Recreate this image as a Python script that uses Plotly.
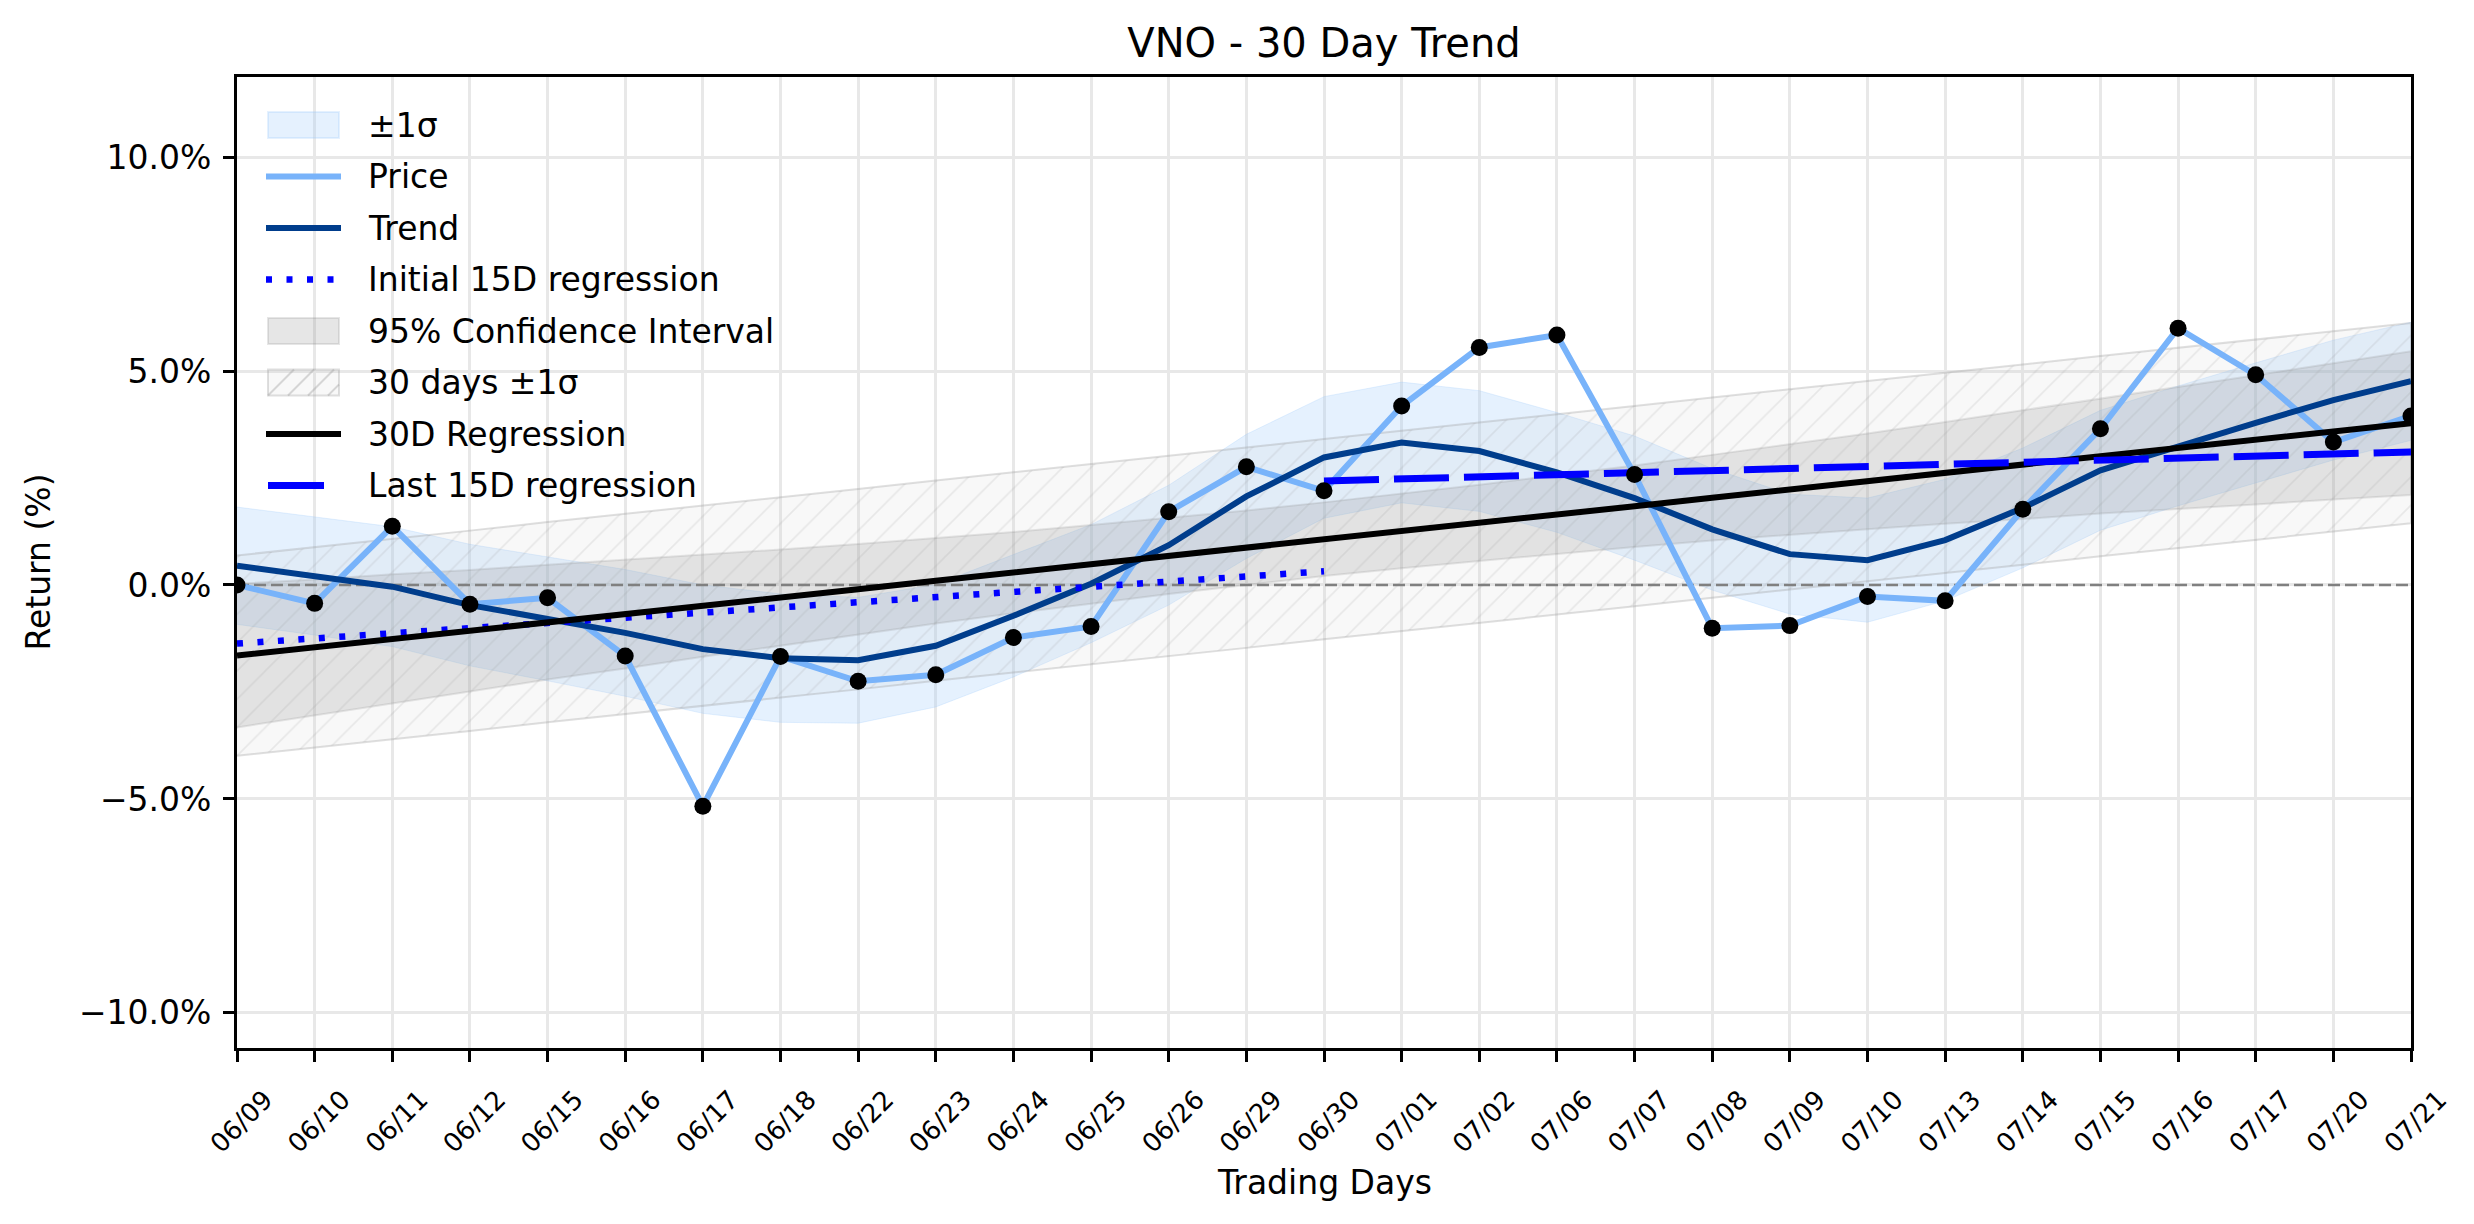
import plotly.graph_objects as go

# ---------------- data ----------------
dates = ["06/09", "06/10", "06/11", "06/12", "06/15", "06/16", "06/17", "06/18",
         "06/22", "06/23", "06/24", "06/25", "06/26", "06/29", "06/30", "07/01",
         "07/02", "07/06", "07/07", "07/08", "07/09", "07/10", "07/13", "07/14",
         "07/15", "07/16", "07/17", "07/20", "07/21"]

price = [0.00, -0.43, 1.37, -0.45, -0.30, -1.66, -5.17, -1.67, -2.25, -2.10,
         -1.23, -0.97, 1.71, 2.76, 2.20, 4.18, 5.55, 5.84, 2.58, -1.01,
         -0.95, -0.27, -0.37, 1.77, 3.65, 6.00, 4.91, 3.34, 3.95]

trend = [0.45, 0.21, -0.04, -0.47, -0.79, -1.12, -1.50, -1.71, -1.76, -1.42,
         -0.72, 0.03, 0.93, 2.07, 2.98, 3.33, 3.13, 2.63, 2.03, 1.30,
         0.72, 0.58, 1.05, 1.80, 2.68, 3.25, 3.79, 4.32, 4.76]

trend_sigma = [1.37, 1.38, 1.40, 1.42, 1.45, 1.48, 1.50, 1.50, 1.47, 1.43,
               1.43, 1.38, 1.40, 1.45, 1.42, 1.41, 1.41, 1.40, 1.45, 1.42,
               1.40, 1.45, 1.42, 1.40, 1.40, 1.40, 1.40, 1.40, 1.38]

reg30 = [-1.65, -1.46, -1.26, -1.07, -0.87, -0.68, -0.49, -0.29, -0.10, 0.10,
         0.29, 0.48, 0.68, 0.87, 1.07, 1.26, 1.45, 1.65, 1.84, 2.04,
         2.23, 2.42, 2.62, 2.81, 3.01, 3.20, 3.39, 3.59, 3.78]

ci95_half = [1.68, 1.59, 1.51, 1.42, 1.34, 1.27, 1.19, 1.12, 1.06, 1.00,
             0.95, 0.92, 0.89, 0.87, 0.86, 0.87, 0.89, 0.92, 0.95, 1.00,
             1.06, 1.12, 1.19, 1.27, 1.34, 1.42, 1.51, 1.59, 1.68]

sigma30 = 2.34

init15_x = [0, 14]
init15_y = [-1.37, 0.32]
last15_x = [14, 28]
last15_y = [2.43, 3.11]

ytick_vals = [-10, -5, 0, 5, 10]
ytick_text = ["\u221210.0%", "\u22125.0%", "0.0%", "5.0%", "10.0%"]

legend_labels = ["\u00b11\u03c3", "Price", "Trend", "Initial 15D regression",
                 "95% Confidence Interval", "30 days \u00b11\u03c3",
                 "30D Regression", "Last 15D regression"]

# ---------------- styles ----------------
FONT = "DejaVu Sans"
C_BAND = "rgba(150,200,250,0.25)"
C_PRICE = "#78B3FA"
C_TREND = "#003D8C"
C_BLUE = "#0000FF"
C_CI = "rgba(128,128,128,0.2)"
C_HATCH_BG = "rgba(200,200,200,0.12)"
C_HATCH_FG = "rgba(150,150,150,0.35)"
C_HATCH_EDGE = "rgba(150,150,150,0.3)"
DASH_DOT = "6px,14.5px"
DASH_LONG = "55px,15px"

idx = list(range(len(dates)))
rev = idx[::-1]

fig = go.Figure()


def band(lower, upper):
    return idx + rev, list(upper) + list(lower)[::-1]


# ---- filled bands (drawn first) ----
bx, by = band([t - s for t, s in zip(trend, trend_sigma)],
              [t + s for t, s in zip(trend, trend_sigma)])
fig.add_trace(go.Scatter(x=bx, y=by, fill="toself", mode="lines",
                         fillcolor=C_BAND, line=dict(color=C_BAND, width=1),
                         name=legend_labels[0], hoverinfo="skip"))

cx, cy = band([r - h for r, h in zip(reg30, ci95_half)],
              [r + h for r, h in zip(reg30, ci95_half)])
fig.add_trace(go.Scatter(x=cx, y=cy, fill="toself", mode="lines",
                         fillcolor=C_CI, line=dict(color=C_CI, width=2),
                         name=legend_labels[4], hoverinfo="skip"))

hx, hy = band([r - sigma30 for r in reg30], [r + sigma30 for r in reg30])
fig.add_trace(go.Scatter(x=hx, y=hy, fill="toself", mode="lines",
                         fillcolor=C_HATCH_BG,
                         fillpattern=dict(shape="/", size=20, solidity=0.08,
                                          fgcolor=C_HATCH_FG, bgcolor=C_HATCH_BG),
                         line=dict(color=C_HATCH_EDGE, width=2),
                         name=legend_labels[5], hoverinfo="skip"))

# zero line
fig.add_trace(go.Scatter(x=[idx[0], idx[-1]], y=[0, 0], mode="lines",
                         line=dict(color="#808080", width=2.5, dash="12px,5px"),
                         hoverinfo="skip"))

# ---- lines ----
fig.add_trace(go.Scatter(x=idx, y=price, mode="lines", name=legend_labels[1],
                         line=dict(color=C_PRICE, width=6)))

fig.add_trace(go.Scatter(x=idx, y=trend, mode="lines", name=legend_labels[2],
                         line=dict(color=C_TREND, width=6)))

fig.add_trace(go.Scatter(x=init15_x, y=init15_y, mode="lines",
                         name=legend_labels[3],
                         line=dict(color=C_BLUE, width=6.5, dash=DASH_DOT)))

fig.add_trace(go.Scatter(x=idx, y=reg30, mode="lines", name=legend_labels[6],
                         line=dict(color="black", width=6)))

fig.add_trace(go.Scatter(x=last15_x, y=last15_y, mode="lines",
                         name=legend_labels[7],
                         line=dict(color=C_BLUE, width=7, dash=DASH_LONG)))

# price dots
fig.add_trace(go.Scatter(x=idx, y=price, mode="markers",
                         marker=dict(color="black", size=17)))

W, H = 2474, 1224
L, R, T, B = 237, 63, 77, 176
pw, ph = W - L - R, H - T - B


def px_x(px):
    return (px - L) / pw


def px_y(py):
    return 1 - (py - T) / ph


# ---------------- hand-drawn legend (matplotlib style, no frame) ----------------
shapes = []
annotations = []
row0, row_step = 125, 51.5
sym_x0, sym_x1, text_x = 266, 341, 366
patch_h = 26
kinds = [("patch", C_BAND, None), ("line", C_PRICE, None), ("line", C_TREND, None),
         ("line", C_BLUE, DASH_DOT), ("patch", C_CI, None), ("hatch", None, None),
         ("line", "black", None), ("line", C_BLUE, "solid")]
widths = [0, 6, 6, 6.5, 0, 0, 6, 7]
ends = [sym_x1] * 7 + [324]
for k, (label, (kind, col, dash)) in enumerate(zip(legend_labels, kinds)):
    yc = row0 + row_step * k
    if kind == "line":
        shapes.append(dict(type="line", xref="paper", yref="paper",
                           x0=px_x(sym_x0 + (2 if k == 7 else 0)), x1=px_x(ends[k]),
                           y0=px_y(yc), y1=px_y(yc),
                           line=dict(color=col, width=widths[k],
                                     dash=dash if dash else "solid")))
    else:
        fill = col if kind == "patch" else C_HATCH_BG
        edge = col if kind == "patch" else C_HATCH_EDGE
        shapes.append(dict(type="rect", xref="paper", yref="paper",
                           x0=px_x(sym_x0 + 2), x1=px_x(sym_x1 - 2),
                           y0=px_y(yc - patch_h / 2), y1=px_y(yc + patch_h / 2),
                           fillcolor=fill, line=dict(color=edge, width=2)))
        if kind == "hatch":
            for j in range(4):
                xa = sym_x0 + 2 + j * 20
                xb = min(xa + patch_h, sym_x1 - 2)
                shapes.append(dict(type="line", xref="paper", yref="paper",
                                   x0=px_x(xa), x1=px_x(xb),
                                   y0=px_y(yc + patch_h / 2),
                                   y1=px_y(yc + patch_h / 2 - (xb - xa)),
                                   line=dict(color=C_HATCH_FG, width=2)))
    annotations.append(dict(text=label, xref="paper", yref="paper",
                            x=px_x(text_x), y=px_y(yc), xanchor="left",
                            yanchor="middle", showarrow=False,
                            font=dict(size=33, family=FONT, color="black")))

annotations += [
    dict(text="Trading Days", xref="paper", yref="paper",
         x=0.5, y=-(1182 - (H - B)) / ph, xanchor="center", yanchor="middle",
         showarrow=False, font=dict(size=33, family=FONT)),
    dict(text="Return (%)", xref="paper", yref="paper",
         x=(38 - L) / pw, y=0.5, xanchor="center", yanchor="middle",
         textangle=-90, showarrow=False, font=dict(size=33, family=FONT)),
]

fig.update_layout(
    width=W, height=H,
    margin=dict(l=L, r=R, t=T, b=B, pad=0),
    paper_bgcolor="white", plot_bgcolor="white",
    font=dict(family=FONT, size=33, color="black"),
    title=dict(text="VNO - 30 Day Trend", x=(L + pw / 2) / W, xanchor="center",
               y=1 - 43 / H, yanchor="middle", yref="container",
               font=dict(size=40, family=FONT, color="black")),
    showlegend=False,
    xaxis=dict(range=[0, 28], tickmode="array", tickvals=idx, ticktext=dates,
               tickangle=-45, tickfont=dict(size=26, family=FONT),
               ticklabelshift=28, ticklabelstandoff=12,
               showgrid=True, gridcolor="#E8E8E8", gridwidth=2.5,
               zeroline=False, showline=True, linecolor="black", linewidth=3,
               mirror=True, ticks="outside", ticklen=11, tickwidth=3,
               tickcolor="black"),
    yaxis=dict(range=[-10.82, 11.87], tickmode="array", tickvals=ytick_vals,
               ticktext=ytick_text, tickfont=dict(size=33, family=FONT),
               ticklabelstandoff=5,
               showgrid=True, gridcolor="#E8E8E8", gridwidth=2.5,
               zeroline=False, showline=True, linecolor="black", linewidth=3,
               mirror=True, ticks="outside", ticklen=11, tickwidth=3,
               tickcolor="black"),
    shapes=shapes,
    annotations=annotations,
)

fig.write_html("out.html")
